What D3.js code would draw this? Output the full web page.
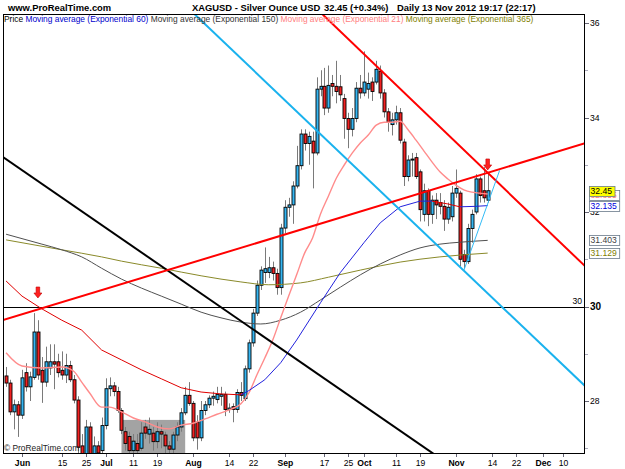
<!DOCTYPE html>
<meta charset="utf-8">
<script src="https://cdn.jsdelivr.net/npm/d3@7"></script>
<style>
  body { margin: 0; background: #fff; }
  svg { display: block; font-family: "Liberation Sans", Arial, sans-serif; }
</style>
<svg id="chart"></svg>
<script>

// ---- data (XAGUSD daily, 28 May - 13 Nov 2012) ----
const firstDay = "2012-05-28";

const open  = [28.53,28.38,27.77,27.92,27.70,28.60,28.30,28.50,29.46,28.65,28.40,28.70,28.83,28.83,28.65,28.55,28.75,28.45,28.02,27.05,
               26.80,27.45,26.85,27.05,26.95,27.48,28.26,28.32,28.20,27.80,27.35,27.25,26.95,27.10,27.00,27.45,27.30,27.32,27.14,27.35,
               27.28,27.05,26.98,27.28,27.45,27.75,28.12,27.95,27.55,27.22,27.80,27.92,28.06,28.03,28.10,28.14,27.82,27.88,27.82,28.18,
               28.05,28.68,29.23,29.86,30.45,30.72,30.72,30.82,30.70,30.40,31.66,32.10,32.15,32.55,32.98,33.65,33.45,33.50,33.25,34.60,
               34.66,34.20,34.72,34.66,34.65,34.40,33.98,33.75,33.98,34.62,34.52,34.60,34.75,34.75,34.98,34.52,34.12,33.85,33.95,34.10,
               33.48,32.75,33.10,33.15,32.85,31.95,32.45,31.95,32.25,32.20,32.12,31.85,31.90,32.40,32.40,31.10,30.95,31.65,32.00,32.70,
               32.45,32.25];
const high  = [28.72,28.45,28.03,28.00,28.66,28.80,28.62,29.86,29.71,28.93,29.15,29.20,29.20,29.00,29.05,29.00,28.85,28.55,28.10,27.30,
               27.60,27.55,27.25,27.15,27.65,28.48,28.50,28.40,28.30,27.85,27.45,27.35,27.30,27.30,27.55,27.60,27.65,27.45,27.55,27.50,
               27.35,27.15,27.35,27.55,27.85,28.30,28.40,28.00,27.70,28.00,28.00,28.12,28.20,28.30,28.30,28.20,27.95,27.95,28.25,28.40,
               28.75,29.30,29.95,30.55,30.85,31.25,31.05,30.95,30.80,31.75,32.25,32.30,32.65,33.40,33.75,33.75,33.70,33.70,34.85,35.00,
               35.05,35.10,34.90,35.20,34.90,34.50,34.10,34.20,34.75,34.90,35.40,34.95,34.85,35.20,35.10,34.60,34.20,34.10,34.25,34.20,
               33.55,33.20,33.25,33.25,32.90,32.60,32.50,32.35,32.40,32.40,32.25,32.20,32.55,32.90,32.45,31.20,31.75,32.05,32.80,32.75,
               32.95,32.85];
const low   = [28.30,27.70,27.40,27.24,27.62,28.20,28.00,28.45,28.45,27.96,28.30,28.55,28.25,28.50,28.45,28.38,28.40,27.95,26.90,26.60,
               26.70,26.70,26.65,26.70,26.90,27.40,28.10,28.10,27.75,27.30,26.95,26.80,26.85,26.80,26.95,27.20,27.10,26.95,27.00,27.00,
               26.85,26.85,26.90,27.15,27.35,27.70,27.90,27.15,26.97,27.15,27.70,27.85,27.90,27.95,27.90,27.68,27.75,27.55,27.75,28.00,
               28.00,28.60,29.15,29.80,30.35,30.50,30.60,30.55,30.25,30.25,31.55,31.90,31.75,32.50,32.90,33.30,33.00,32.50,33.20,34.45,
               34.05,34.10,34.45,34.30,34.35,33.55,33.35,33.60,33.90,34.40,34.45,34.40,34.35,34.70,34.40,34.00,33.70,33.62,33.85,33.45,
               32.55,32.65,32.75,32.70,31.80,31.80,31.70,31.75,31.85,31.95,31.60,31.75,31.80,32.30,30.85,30.80,30.90,31.35,31.95,32.20,
               32.20,32.20];
const close = [28.38,27.77,27.92,27.70,28.49,28.30,28.51,29.46,28.55,28.40,28.83,28.83,28.78,28.60,28.55,28.75,28.45,28.02,27.02,26.80,
               27.45,26.85,27.05,26.90,27.48,28.26,28.32,28.20,27.80,27.38,27.10,26.95,27.15,26.95,27.32,27.32,27.40,27.14,27.35,27.30,
               27.05,26.98,27.28,27.45,27.75,28.12,27.95,27.22,27.22,27.80,27.92,28.06,28.10,28.14,28.14,27.82,27.85,27.82,28.18,28.12,
               28.68,29.23,29.86,30.45,30.77,30.80,30.82,30.70,30.40,31.66,32.10,32.15,32.55,32.98,33.65,33.45,33.60,33.25,34.60,34.66,
               34.20,34.68,34.66,34.55,34.48,33.98,33.75,33.98,34.62,34.52,34.75,34.72,34.55,35.02,34.52,34.12,33.90,33.95,34.10,33.52,
               32.75,33.10,33.12,32.75,32.05,32.45,31.95,32.25,32.15,32.12,31.85,32.10,32.40,32.50,31.00,30.95,31.65,31.95,32.70,32.35,
               32.30,32.45];

// moving averages, sampled at candle indices
const ema21At  = [0,4,9,14,17,19,21,24,26,29,32,35,38,41,44,47,50,53,56,59,61,63,65,67,69,71,73,75,77,79,81,83,85,87,89,91,93,95,97,99,101,103,105,107,109,111,113,115,117,119,121];
const ema21    = [29.02,28.74,28.70,28.72,28.63,28.40,28.17,27.87,27.87,27.77,27.64,27.56,27.45,27.41,27.49,27.53,27.62,27.72,27.81,27.94,28.17,28.55,28.91,29.29,29.76,30.22,30.67,31.13,31.45,31.96,32.34,32.72,33.00,33.25,33.46,33.63,33.84,33.90,33.90,33.92,33.74,33.52,33.29,33.06,32.85,32.70,32.57,32.47,32.42,32.40,32.38];
const ema60At  = [0,4,9,14,19,24,29,34,39,44,49,54,59,61,65,69,73,79,84,90,94,99,104,107,111,114,118,121];
const ema60    = [30.54,30.22,29.95,29.71,29.50,29.08,28.87,28.66,28.47,28.28,28.19,28.15,28.13,28.22,28.45,28.81,29.29,30.08,30.72,31.36,31.77,32.11,32.23,32.23,32.17,32.11,32.12,32.135];
const ema150At = [0,9,14,19,24,29,34,39,44,49,54,59,64,69,74,79,84,89,94,99,104,109,114,121];
const ema150   = [31.53,31.32,31.20,31.05,30.81,30.58,30.39,30.22,30.05,29.88,29.76,29.67,29.63,29.71,29.88,30.14,30.41,30.67,30.90,31.09,31.24,31.32,31.36,31.40];
const ema365At = [0,14,24,29,39,49,59,66,74,81,89,99,109,121];
const ema365   = [31.41,31.20,31.05,30.96,30.81,30.65,30.52,30.46,30.50,30.62,30.77,30.94,31.05,31.13];

// hand drawn objects: [candle index, price]
const blackLine = [[0, 33.12], [104, 27.08]];
const redUpLine = [[7, 29.91], [121, 32.83]];
const redDnLine = [[84, 35.82], [121, 32.83]];
const blueLine  = [[69, 34.45], [115, 30.76]];
const blueThin  = [[115, 30.76], [124, 32.88]];
const arrows    = [[8, 30.18], [121, 32.89]];
const zone      = {from: 29, to: 45, top: 27.6, bottom: 26.0};
const hLevel    = 30;

// right-hand value labels
const valueLabels = [
  {v: 31.129, text: "31.129", color: "#808000"},
  {v: 31.403, text: "31.403", color: "#404040"},
  {v: 32.135, text: "32.135", color: "#0000dd"},
  {v: 32.355, text: "32.355", color: "#ff8080"},
  {v: 32.45,  text: "32.45",  color: "#000", bg: "#ffff00"}
];

const yTicks = [28, 30, 32, 34, 36];
const yMinor = [27, 29, 31, 33, 35];
const xTicks = [["2012-06-01","Jun",1],["2012-06-15","15",0],["2012-06-25","25",0],["2012-07-02","Jul",1],["2012-07-11","11",0],
                ["2012-07-19","19",0],["2012-08-01","Aug",1],["2012-08-14","14",0],["2012-08-22","22",0],["2012-09-03","Sep",1],
                ["2012-09-17","17",0],["2012-09-25","25",0],["2012-10-01","Oct",1],["2012-10-11","11",0],["2012-10-19","19",0],
                ["2012-11-01","Nov",1],["2012-11-14","14",0],["2012-11-22","22",0],["2012-12-03","Dec",1],["2012-12-10","10",0]];

const legend = [["Price ", "#000"], ["Moving average (Exponential 60) ", "#0000cc"],
                ["Moving average (Exponential 150) ", "#333"], ["Moving average (Exponential 21) ", "#ff8080"],
                ["Moving average (Exponential 365)", "#808000"]];

// ---- layout ----
const width = 625, height = 469;
const plot = {l: 3, r: 585, t: 14, b: 454};

const svg = d3.select("#chart").attr("width", width).attr("height", height);

// trading days (weekdays) -> index
const parse = d3.timeParse("%Y-%m-%d"), fmt = d3.timeFormat("%Y-%m-%d");
const days = d3.timeDay.range(parse(firstDay), parse("2013-01-01")).filter(d => d.getDay() % 6 !== 0);
const dayIndex = new Map(days.map((d, i) => [fmt(d), i]));

const x = d3.scaleLinear().domain([-0.77, 145.45]).range([plot.l, plot.r]);
const y = d3.scaleLinear().domain([30, 36]).range([306.5, 23]);

svg.append("defs").append("clipPath").attr("id", "clip")
  .append("rect").attr("x", plot.l).attr("y", plot.t).attr("width", plot.r - plot.l).attr("height", plot.b - plot.t);

const g = svg.append("g").attr("clip-path", "url(#clip)");

// shaded zone
g.append("rect")
  .attr("x", x(zone.from)).attr("width", x(zone.to) - x(zone.from))
  .attr("y", y(zone.top)).attr("height", y(zone.bottom) - y(zone.top))
  .attr("fill", "#a3a3a3");

// horizontal level
g.append("line").attr("x1", plot.l).attr("x2", plot.r)
  .attr("y1", Math.round(y(hLevel)) + 0.5).attr("y2", Math.round(y(hLevel)) + 0.5)
  .attr("stroke", "#000").attr("stroke-width", 1.2);

// candles
const candles = open.map((o, i) => ({i, o, h: high[i], l: low[i], c: close[i]}));
const cg = g.append("g");
cg.selectAll("line").data(candles).join("line")
  .attr("x1", d => Math.round(x(d.i)) + 0.5).attr("x2", d => Math.round(x(d.i)) + 0.5)
  .attr("y1", d => y(d.h)).attr("y2", d => y(d.l))
  .attr("stroke", "#7a7a7a");
cg.selectAll("rect").data(candles).join("rect")
  .attr("x", d => Math.round(x(d.i)) - 1)
  .attr("width", 3)
  .attr("y", d => y(Math.max(d.o, d.c)))
  .attr("height", d => Math.max(1, Math.abs(y(d.o) - y(d.c))))
  .attr("fill", d => d.c >= d.o ? "#35b6f2" : "#f22222")
  .attr("stroke", "#000").attr("stroke-width", 0.9);

// moving averages
const maLine = d3.line().x(d => x(d[0])).y(d => y(d[1])).curve(d3.curveMonotoneX);
function drawMA(at, vals, color, w) {
  g.append("path").datum(at.map((a, k) => [a, vals[k]]))
    .attr("d", maLine).attr("fill", "none").attr("stroke", color).attr("stroke-width", w);
}
drawMA(ema365At, ema365, "#8a8a2a", 1);
drawMA(ema150At, ema150, "#505050", 1);
drawMA(ema21At, ema21, "#ff8c8c", 1.4);

// EMA 60 coloured by slope: blue rising, red falling
const e60 = ema60At.map((a, k) => [a, ema60[k]]);
for (let k = 1; k < e60.length; k++) {
  g.append("path").datum([e60[k - 1], e60[k]])
    .attr("d", d3.line().x(d => x(d[0])).y(d => y(d[1])))
    .attr("fill", "none")
    .attr("stroke", e60[k][1] >= e60[k - 1][1] ? "#2222dd" : "#e00000")
    .attr("stroke-width", 1);
}

// trend lines (extended across the panel)
function ray(pts, color, w) {
  const [[i0, p0], [i1, p1]] = pts;
  const s = (p1 - p0) / (i1 - i0);
  const a = x.domain()[0], b = x.domain()[1];
  g.append("line")
    .attr("x1", x(a)).attr("y1", y(p0 + (a - i0) * s))
    .attr("x2", x(b)).attr("y2", y(p0 + (b - i0) * s))
    .attr("stroke", color).attr("stroke-width", w);
}
ray(blackLine, "#000", 2);
ray(blueLine, "#1ab2ee", 2);
ray(redUpLine, "#ff0000", 2);
ray(redDnLine, "#ff0000", 2);
g.append("line")
  .attr("x1", x(blueThin[0][0])).attr("y1", y(blueThin[0][1]))
  .attr("x2", x(blueThin[1][0])).attr("y2", y(blueThin[1][1]))
  .attr("stroke", "#33bbf5").attr("stroke-width", 1);

// arrows
arrows.forEach(([i, p]) => {
  const ax = x(i), ay = y(p);
  g.append("path")
    .attr("d", `M${ax},${ay} l-4,-5 l2.2,0 l0,-6 l3.6,0 l0,6 l2.2,0 z`)
    .attr("fill", "#ff2020").attr("stroke", "#c00000").attr("stroke-width", 0.6);
});

// level label
g.append("text").attr("x", plot.r - 3).attr("y", y(hLevel) - 2.5)
  .attr("text-anchor", "end").attr("font-size", 8.6).text("30");

// watermark
g.append("text").attr("x", plot.l + 1).attr("y", plot.b - 3)
  .attr("font-size", 8.4).attr("fill", "#222").text("\u00a9 ProRealTime.com");

// legend
const lg = svg.append("text").attr("x", plot.l + 1).attr("y", 22).attr("font-size", 8.4);
legend.forEach(([t, c]) => lg.append("tspan").attr("fill", c).text(t));

// frame
svg.append("rect").attr("x", plot.l + 0.5).attr("y", plot.t + 0.5)
  .attr("width", plot.r - plot.l - 1).attr("height", plot.b - plot.t - 1)
  .attr("fill", "none").attr("stroke", "#000");

// y axis
const ya = svg.append("g");
yMinor.forEach(v => ya.append("line").attr("x1", plot.r).attr("x2", plot.r + 3)
  .attr("y1", Math.round(y(v)) + 0.5).attr("y2", Math.round(y(v)) + 0.5).attr("stroke", "#aab"));
yTicks.forEach(v => {
  ya.append("line").attr("x1", plot.r).attr("x2", plot.r + 4)
    .attr("y1", Math.round(y(v)) + 0.5).attr("y2", Math.round(y(v)) + 0.5).attr("stroke", "#667");
  ya.append("text").attr("x", plot.r + 5).attr("y", y(v) + 3.2)
    .attr("font-size", v === hLevel ? 10 : 8.6).attr("font-weight", v === hLevel ? "bold" : null)
    .text(v);
});

// value labels on the right (stacked like the original, the last price on top)
valueLabels.forEach(d => {
  const ty = y(d.v);
  const w = d.text.length * 4.7 + 2;
  ya.append("rect").attr("x", plot.r + 4.5).attr("y", Math.round(ty - 5) + 0.5)
    .attr("width", w).attr("height", 10)
    .attr("fill", d.bg || "#fff").attr("stroke", "#6a7a8a").attr("stroke-width", 0.8);
  ya.append("text").attr("x", plot.r + 5.5).attr("y", ty + 3.2)
    .attr("font-size", 8.6).attr("fill", d.color).text(d.text);
});

// x axis
const xa = svg.append("g");
xTicks.forEach(([ds, lab, bold]) => {
  const px = Math.round(x(dayIndex.get(ds))) + 0.5;
  xa.append("line").attr("x1", px).attr("x2", px).attr("y1", plot.b).attr("y2", plot.b + 3).attr("stroke", "#667");
  xa.append("text").attr("x", px).attr("y", 466).attr("text-anchor", "middle")
    .attr("font-size", 8.6).attr("font-weight", bold ? "bold" : null).text(lab);
});

// header
const hd = svg.append("g").attr("font-size", 9.4).attr("font-weight", "bold");
hd.append("text").attr("x", 8).attr("y", 10.5).text("www.ProRealTime.com");
hd.append("text").attr("x", 192).attr("y", 10.5).text("XAGUSD - Silver Ounce USD");
hd.append("text").attr("x", 324).attr("y", 10.5).text("32.45 (+0.34%)");
hd.append("text").attr("x", 397).attr("y", 10.5).text("Daily  13 Nov 2012 19:17 (22:17)");

</script>
